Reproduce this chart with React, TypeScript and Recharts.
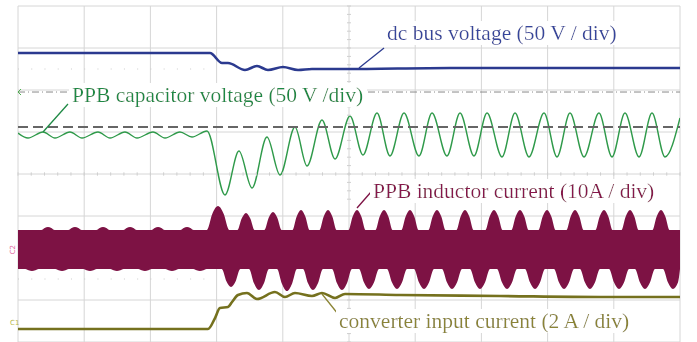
import React from 'react';
import { ComposedChart, Line, Area, XAxis, YAxis, ReferenceLine, ReferenceDot, CartesianGrid } from 'recharts';

// Time axis in scope divisions (0..10), signal values in vertical divisions (0..8)
const busT = [0, 2.9, 3.082, 3.172, 3.429, 3.61, 3.776, 4.003, 4.23, 4.441, 4.94, 6.526, 10];
const busV = [6.881, 6.881, 6.643, 6.643, 6.476, 6.571, 6.476, 6.548, 6.476, 6.5, 6.5, 6.524, 6.524];

const capT = [0, 0.151, 0.378, 0.559, 0.785, 0.967, 1.208, 1.39, 1.616, 1.798, 2.039, 2.221, 2.447, 2.628, 2.855,
  3.127, 3.338, 3.535, 3.761, 3.958, 4.184, 4.366, 4.592, 4.789, 5.015, 5.211, 5.423, 5.619, 5.831, 6.057, 6.254,
  6.48, 6.677, 6.888, 7.085, 7.311, 7.508, 7.719, 7.946, 8.142, 8.338, 8.55, 8.776, 8.973, 9.169, 9.381, 9.577, 9.773, 10];
const capV = [4.976, 4.857, 5.0, 4.857, 5.0, 4.857, 5.0, 4.857, 5.0, 4.857, 5.0, 4.857, 5.0, 4.881, 5.024,
  3.5, 4.548, 3.667, 4.881, 3.976, 5.119, 4.19, 5.286, 4.357, 5.381, 4.452, 5.452, 4.429, 5.452, 4.429, 5.452,
  4.429, 5.452, 4.429, 5.452, 4.405, 5.452, 4.405, 5.452, 4.405, 5.452, 4.405, 5.452, 4.405, 5.452, 4.405, 5.452, 4.405, 5.333];

const inT = [0, 2.87, 2.976, 3.051, 3.172, 3.233, 3.323, 3.459, 3.61, 3.882, 4.033, 4.184, 4.441, 4.592, 4.789, 4.94, 5.77, 7.281, 8.792, 10];
const inV = [0.31, 0.31, 0.571, 0.81, 0.833, 0.952, 1.119, 1.167, 1.024, 1.19, 1.071, 1.167, 1.095, 1.167, 1.048, 1.143, 1.119, 1.095, 1.071, 1.071];

// PPB inductor current switching band: edges and ripple lobes [time, extreme, half-width]
const indBandTop = 2.667;
const indBandBottom = 1.74;
const indTopLobes: [number, number, number][] = [
  [0.453, 2.738, 0.1], [0.861, 2.738, 0.1], [1.284, 2.738, 0.1], [1.692, 2.738, 0.1], [2.115, 2.738, 0.1], [2.553, 2.738, 0.1],
  [3.021, 3.238, 0.17], [3.444, 3.071, 0.13], [3.852, 3.095, 0.13], [4.275, 3.143, 0.13], [4.683, 3.143, 0.13],
  [5.121, 3.143, 0.13], [5.529, 3.143, 0.13], [5.921, 3.143, 0.13], [6.329, 3.143, 0.13], [6.752, 3.143, 0.13],
  [7.19, 3.143, 0.13], [7.583, 3.143, 0.13], [7.991, 3.143, 0.13], [8.414, 3.143, 0.13], [8.852, 3.143, 0.13],
  [9.245, 3.143, 0.13], [9.713, 3.143, 0.13],
];
const indBottomLobes: [number, number, number][] = [
  [0.211, 1.69, 0.1], [0.665, 1.69, 0.1], [1.088, 1.69, 0.1], [1.495, 1.69, 0.1], [1.918, 1.69, 0.1], [2.326, 1.69, 0.1],
  [2.749, 1.69, 0.1], [3.218, 1.31, 0.14], [3.64, 1.238, 0.15], [4.063, 1.214, 0.15], [4.456, 1.238, 0.15],
  [4.894, 1.238, 0.15], [5.302, 1.262, 0.15], [5.725, 1.262, 0.15], [6.133, 1.262, 0.15], [6.556, 1.262, 0.15],
  [6.979, 1.262, 0.15], [7.387, 1.262, 0.15], [7.81, 1.262, 0.15], [8.248, 1.262, 0.15], [8.64, 1.262, 0.15],
  [9.079, 1.262, 0.15], [9.471, 1.262, 0.15], [9.894, 1.262, 0.15],
];
const lobeShoulder = 0.68; // fraction of lobe height reached halfway out from the crest

const capRef = 5.119;
const capOffset = 5.952;

const gridTimes = [0, 1, 2, 3, 4, 5, 6, 7, 8, 9, 10];
const gridLevels = [0, 1, 2, 3, 4, 5, 6, 7, 8];

const zip = (t: number[], v: number[]) => t.map((x, i) => ({ t: x, v: v[i] }));
const envelope = (lobes: [number, number, number][], edge: number) => {
  const pts: { t: number; v: number }[] = [{ t: 0, v: edge }];
  lobes.forEach(([t, v, hw]) => {
    const sh = edge + (v - edge) * lobeShoulder;
    pts.push(
      { t: Math.max(0, t - hw), v: edge },
      { t: t - hw / 2, v: sh },
      { t, v },
      { t: t + hw / 2, v: sh },
      { t: Math.min(10, t + hw), v: edge },
    );
  });
  pts.push({ t: 10, v: edge });
  return pts.filter((p) => p.t >= 0 && p.t <= 10);
};

const busData = zip(busT, busV);
const capData = zip(capT, capV);
const inData = zip(inT, inV);
const topEnv = envelope(indTopLobes, indBandTop);
const botEnv = envelope(indBottomLobes, indBandBottom);

const minorSteps = Array.from({ length: 51 }, (_, i) => Math.round(i * 2) / 10);

const FONT = '"Liberation Serif", "Times New Roman", serif';

const txt = (t: number, v: number, s: string, color: string, size = 21.5) => (
  <ReferenceDot
    key={s}
    x={t}
    y={v}
    r={0}
    ifOverflow="visible"
    shape={(p: any) => (
      <text x={p.cx} y={p.cy} fill={color} fontSize={size} fontFamily={FONT} filter="url(#whitebg)">
        {s}
      </text>
    )}
  />
);

export default function App() {
  return (
    <div style={{ position: 'absolute', left: 0, top: 0, background: '#fff' }}>
      <svg width={0} height={0} style={{ position: 'absolute' }}>
        <defs>
          <filter id="whitebg" x="-0.01" y="0.02" width="1.02" height="0.96">
            <feFlood floodColor="#ffffff" />
            <feMerge>
              <feMergeNode />
              <feMergeNode in="SourceGraphic" />
            </feMerge>
          </filter>
        </defs>
      </svg>
      <ComposedChart width={697} height={342} margin={{ top: 6, right: 17, bottom: 0, left: 18 }}>
        <CartesianGrid stroke="#d6d6d6" strokeWidth={1} />
        <XAxis type="number" dataKey="t" domain={[0, 10]} ticks={gridTimes} hide allowDataOverflow />
        <YAxis type="number" dataKey="v" domain={[0, 8]} ticks={gridLevels} hide allowDataOverflow />

        <Area data={topEnv} dataKey="v" type="monotone" baseValue={indBandBottom} stroke="none" fill="#7d1244" fillOpacity={1} isAnimationActive={false} />
        <Area data={botEnv} dataKey="v" type="monotone" baseValue={indBandTop} stroke="none" fill="#7d1244" fillOpacity={1} isAnimationActive={false} />

        <Line data={busData} dataKey="v" type="monotone" stroke="#2b3a8f" strokeWidth={2.6} dot={false} isAnimationActive={false} />
        <Line data={capData} dataKey="v" type="monotone" stroke="#2f9a4a" strokeWidth={1.4} dot={false} isAnimationActive={false} />
        <Line data={inData} dataKey="v" type="monotone" stroke="#75711e" strokeWidth={2.6} dot={false} isAnimationActive={false} />

        {minorSteps.filter((s) => s <= 10).map((s) => (
          <ReferenceLine key={'mx' + s} segment={[{ x: s, y: 3.96 }, { x: s, y: 4.04 }]} stroke="#cfcfcf" />
        ))}
        {minorSteps.filter((s) => s <= 8 && (s < 1.1 || s > 3.3)).map((s) => (
          <ReferenceLine key={'my' + s} segment={[{ x: 4.97, y: s }, { x: 5.03, y: s }]} stroke="#cfcfcf" />
        ))}
        <ReferenceLine segment={[{ x: 0, y: 6.5 }, { x: 3.0, y: 6.5 }]} stroke="#cccccc" strokeDasharray="1 12.24" />
        <ReferenceLine segment={[{ x: 0, y: 1.5 }, { x: 2.9, y: 1.5 }]} stroke="#cccccc" strokeDasharray="1 12.24" />

        <ReferenceLine y={capOffset} stroke="#8a8a8a" strokeWidth={1} strokeDasharray="7 3 1 3" />
        <ReferenceLine y={capRef} stroke="#666666" strokeWidth={2} strokeDasharray="10 5" />

        <ReferenceLine segment={[{ x: 5.151, y: 6.524 }, { x: 5.529, y: 7.0 }]} stroke="#2b3a8f" strokeWidth={1.3} />
        <ReferenceLine segment={[{ x: 0.378, y: 5.0 }, { x: 0.755, y: 5.667 }]} stroke="#1f8a45" strokeWidth={1.3} />
        <ReferenceLine segment={[{ x: 5.121, y: 3.19 }, { x: 5.332, y: 3.571 }]} stroke="#7d1244" strokeWidth={1.3} />
        <ReferenceLine segment={[{ x: 4.592, y: 1.143 }, { x: 4.834, y: 0.667 }]} stroke="#8b8434" strokeWidth={1.3} />

        {txt(5.574, 7.19, 'dc bus voltage (50 V / div)', '#35459c')}
        {txt(0.816, 5.714, 'PPB capacitor voltage (50 V /div)', '#1f8a45')}
        {txt(5.363, 3.429, 'PPB inductor current (10A / div)', '#86194b')}
        {txt(4.85, 0.333, 'converter input current (2 A / div)', '#8b8434')}

        <ReferenceDot
          x={-0.05}
          y={2.2}
          r={0}
          ifOverflow="visible"
          shape={(p: any) => (
            <text x={p.cx} y={p.cy} fill="#e0609a" fontSize={7} fontFamily="DejaVu Sans" textAnchor="middle" transform={`rotate(-90 ${p.cx} ${p.cy})`}>
              C2
            </text>
          )}
        />
        <ReferenceDot
          x={-0.05}
          y={0.4}
          r={0}
          ifOverflow="visible"
          shape={(p: any) => (
            <text x={p.cx} y={p.cy} fill="#b8b54a" fontSize={7} fontFamily="DejaVu Sans" textAnchor="middle">
              C1
            </text>
          )}
        />
        <ReferenceDot
          x={0.0}
          y={capOffset}
          r={0}
          ifOverflow="visible"
          shape={(p: any) => (
            <path d={`M ${p.cx + 3} ${p.cy - 3} L ${p.cx} ${p.cy} L ${p.cx + 3} ${p.cy + 3}`} stroke="#4cb04c" strokeWidth={1} fill="none" />
          )}
        />
      </ComposedChart>
    </div>
  );
}
